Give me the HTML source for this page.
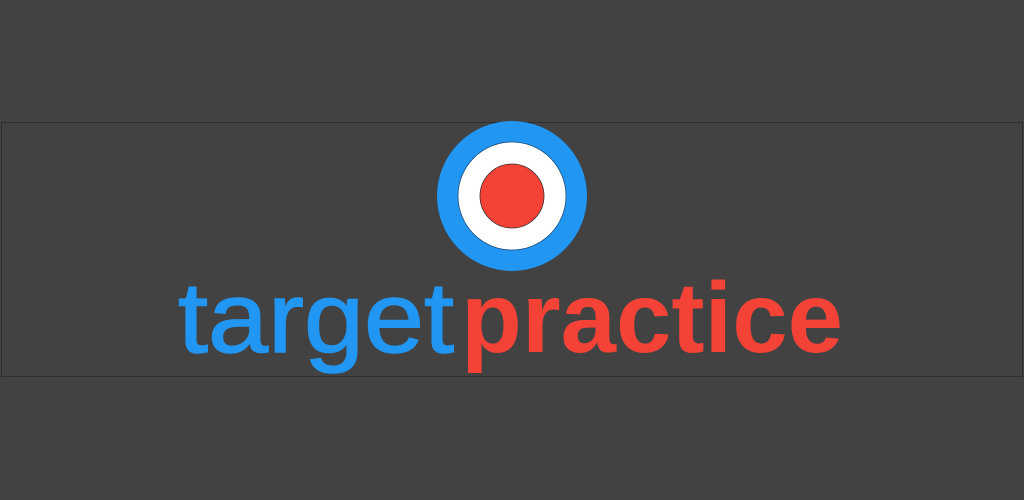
<!DOCTYPE html>
<html><head><meta charset="utf-8"><style>
html,body{margin:0;padding:0;background:#424242;width:1024px;height:500px;overflow:hidden}
</style></head><body>
<svg width="1024" height="500" viewBox="0 0 1024 500" xmlns="http://www.w3.org/2000/svg">
<rect x="0" y="0" width="1024" height="500" fill="#424242"/>
<rect x="1.5" y="122.5" width="1021" height="254" fill="none" stroke="#2e2e2e" stroke-width="1"/>
<g>
<circle cx="512" cy="196" r="75" fill="#2196f3"/>
<circle cx="512" cy="196" r="54" fill="#ffffff" stroke="#1a4f80" stroke-width="0.8"/>
<circle cx="512" cy="196" r="32" fill="#f44336" stroke="#3a2a2a" stroke-width="0.8"/>
</g>
<text x="178" y="352" font-family="Liberation Sans, sans-serif" font-weight="normal" font-size="100" fill="#2196f3" stroke="#2196f3" stroke-width="1.5" textLength="276" lengthAdjust="spacingAndGlyphs">target</text>
<text x="461" y="352" font-family="Liberation Sans, sans-serif" font-weight="bold" font-size="100" fill="#f44336" textLength="382" lengthAdjust="spacingAndGlyphs">practice</text>
</svg>
</body></html>
